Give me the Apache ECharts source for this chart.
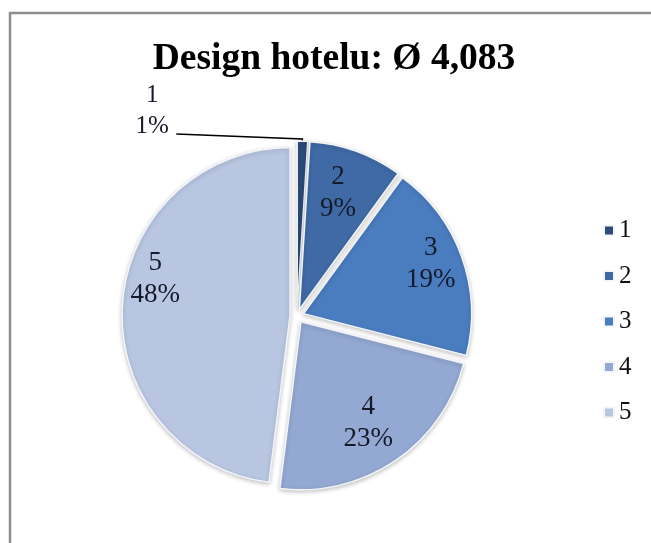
<!DOCTYPE html>
<html>
<head>
<meta charset="utf-8">
<script src="https://cdn.jsdelivr.net/npm/echarts@6/dist/echarts.min.js"></script>
<style>
  html, body { margin: 0; padding: 0; background: #ffffff; }
  #chart { width: 651px; height: 543px; }
</style>
</head>
<body>
<div id="chart"></div>
<script>
// Rating categories and their share of answers (percent)
const categories = ['1', '2', '3', '4', '5'];
const shares = [1, 9, 19, 23, 48];
const sliceColors = ['#2c4b79', '#3f6aa6', '#4a7cc0', '#93a8d2', '#b8c6e2'];
const titleText = 'Design hotelu: Ø 4,083';

const serif = 'Liberation Serif, Times New Roman, serif';
const center = [297, 316];
const outerR = 168;
const explode = 7;
// Small hand nudges of the inside labels, [dx, dy] per slice
const labelNudge = [[0, 0], [-6, 8], [3, -5], [-7, -8], [-3, -28]];

const chart = echarts.init(document.getElementById('chart'), null, { renderer: 'canvas' });

// Slices, all pulled out from the centre
const sliceData = categories.map((name, i) => ({
  name: name,
  value: shares[i],
  selected: true,
  itemStyle: { color: sliceColors[i] },
  select: { itemStyle: { color: sliceColors[i] } }
}));

// Transparent ring that carries the labels; the tiny first slice is labelled outside
const labelRingData = categories.map((name, i) => (
  i === 0
    ? { name: name, value: shares[i], label: { position: 'outside', fontSize: 25, lineHeight: 31 }, labelLine: { show: true } }
    : { name: name, value: shares[i] }
));

const option = {
  animation: false,
  backgroundColor: '#ffffff',
  title: {
    text: titleText,
    left: 334,
    top: 40,
    textAlign: 'center',
    padding: 0,
    textStyle: { fontFamily: serif, fontWeight: 'bold', fontSize: 37.5, color: '#000000' }
  },
  legend: {
    orient: 'vertical',
    left: 603,
    top: 218,
    padding: 0,
    itemWidth: 10,
    itemHeight: 10,
    itemGap: 20.5,
    itemTextGap: 5,
    icon: 'rect',
    data: categories,
    selectedMode: false,
    textStyle: { fontFamily: serif, fontSize: 25, color: '#111111' }
  },
  graphic: [{
    type: 'rect',
    shape: { x: 10, y: 13, width: 700, height: 600 },
    style: { fill: 'none', stroke: '#8e8e8e', lineWidth: 2.5 },
    silent: true,
    z: -10
  }],
  series: [
    {
      type: 'pie',
      center: center,
      radius: [0, outerR],
      startAngle: 90,
      clockwise: true,
      selectedMode: 'multiple',
      selectedOffset: explode,
      avoidLabelOverlap: false,
      emphasis: { disabled: true },
      itemStyle: {
        borderColor: '#f2f5fa',
        borderWidth: 1.5,
        shadowBlur: 4,
        shadowOffsetY: 1.5,
        shadowColor: 'rgba(0,0,0,0.22)'
      },
      label: { show: false },
      labelLine: { show: false },
      data: sliceData
    },
    {
      type: 'pie',
      center: center,
      radius: [104, outerR],
      startAngle: 90,
      clockwise: true,
      silent: true,
      legendHoverLink: false,
      avoidLabelOverlap: false,
      itemStyle: { color: 'rgba(0,0,0,0)', borderWidth: 0 },
      label: {
        position: 'inside',
        formatter: '{b}\n{c}%',
        fontFamily: serif,
        fontSize: 27,
        lineHeight: 32,
        color: '#151a28'
      },
      labelLine: {
        show: false,
        lineStyle: { color: '#000000', width: 1.6 }
      },
      labelLayout: function (p) {
        if (p.dataIndex === 0) {
          // Leader line from the top of the exploded sliver out to the left
          const tipX = p.rect.x + p.rect.width / 2;
          const tipY = p.rect.y - explode;
          return {
            x: tipX - 150,
            y: tipY - 30,
            align: 'center',
            verticalAlign: 'middle',
            labelLinePoints: [[tipX, tipY + 1], [tipX, tipY - 2], [tipX - 126, tipY - 7]]
          };
        }
        const n = labelNudge[p.dataIndex];
        return {
          x: p.labelRect.x + p.labelRect.width / 2 + n[0],
          y: p.labelRect.y + p.labelRect.height / 2 + n[1],
          align: 'center',
          verticalAlign: 'middle'
        };
      },
      data: labelRingData
    }
  ]
};

chart.setOption(option);
</script>
</body>
</html>
